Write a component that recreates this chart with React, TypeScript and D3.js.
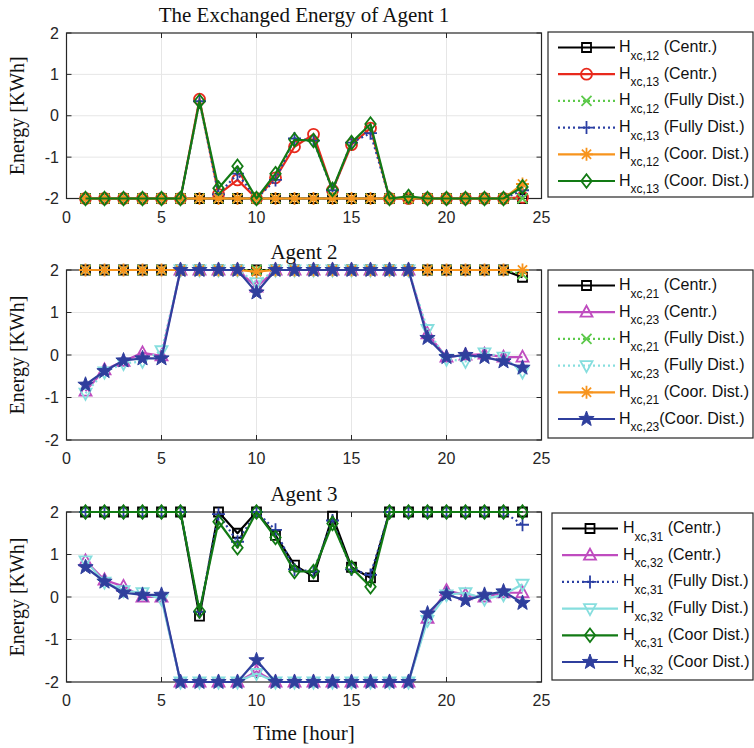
import React from "react";
import * as d3 from "d3";

// x categories (hour of day) and axis ticks
const hours = [1, 2, 3, 4, 5, 6, 7, 8, 9, 10, 11, 12, 13, 14, 15, 16, 17, 18, 19, 20, 21, 22, 23, 24];
const xTicks = [0, 5, 10, 15, 20, 25];
const yTicks = [-2, -1, 0, 1, 2];

// Agent 1
const h12Centr = [-2, -2, -2, -2, -2, -2, -2, -2, -2, -2, -2, -2, -2, -2, -2, -2, -2, -2, -2, -2, -2, -2, -2, -2];
const h13Centr = [-2, -2, -2, -2, -2, -2, 0.4, -1.9, -1.55, -2, -1.5, -0.75, -0.45, -1.8, -0.7, -0.3, -2, -2, -2, -2, -2, -2, -2, -1.97];
const h12Fully = [-2, -2, -2, -2, -2, -2, -2, -2, -2, -2, -2, -2, -2, -2, -2, -2, -2, -2, -2, -2, -2, -2, -2, -2];
const h13Fully = [-2, -2, -2, -2, -2, -2, 0.35, -1.9, -1.4, -2, -1.55, -0.55, -0.6, -1.8, -0.65, -0.42, -2, -2, -2, -2, -2, -2, -2, -1.8];
const h12Coor = [-2, -2, -2, -2, -2, -2, -2, -2, -2, -2, -2, -2, -2, -2, -2, -2, -2, -2, -2, -2, -2, -2, -2, -1.65];
const h13Coor = [-2, -2, -2, -2, -2, -2, 0.35, -1.75, -1.22, -2, -1.4, -0.58, -0.6, -1.78, -0.65, -0.2, -2, -1.95, -2, -2, -2, -2, -2, -1.72];

// Agent 2
const h21Centr = [2, 2, 2, 2, 2, 2, 2, 2, 2, 2, 2, 2, 2, 2, 2, 2, 2, 2, 2, 2, 2, 2, 2, 1.83];
const h23Centr = [-0.85, -0.35, -0.15, 0.05, -0.02, 2, 2, 2, 2, 1.6, 2, 2, 2, 2, 2, 2, 2, 2, 0.5, -0.05, 0, 0.02, -0.05, -0.05];
const h21Fully = [2, 2, 2, 2, 2, 2, 2, 2, 2, 2, 2, 2, 2, 2, 2, 2, 2, 2, 2, 2, 2, 2, 2, 1.9];
const h23Fully = [-0.9, -0.4, -0.2, -0.15, 0.1, 2, 2, 2, 2, 1.7, 2, 2, 2, 2, 2, 2, 2, 2, 0.6, -0.1, -0.15, 0.05, -0.05, -0.4];
const h21Coor = [2, 2, 2, 2, 2, 2, 2, 2, 2, 1.96, 2, 2, 2, 2, 2, 2, 2, 2, 2, 2, 2, 2, 2, 2];
const h23Coor = [-0.7, -0.38, -0.13, -0.08, -0.08, 2, 2, 2, 2, 1.47, 2, 2, 2, 2, 2, 2, 2, 2, 0.4, -0.05, 0, -0.05, -0.15, -0.3];

// Agent 3
const h31Centr = [2, 2, 2, 2, 2, 2, -0.45, 2, 1.5, 2, 1.45, 0.75, 0.48, 1.9, 0.7, 0.45, 2, 2, 2, 2, 2, 2, 2, 2];
const h32Centr = [0.85, 0.4, 0.25, 0, 0, -2, -2, -2, -2, -1.75, -2, -2, -2, -2, -2, -2, -2, -2, -0.5, 0.15, 0.05, 0, 0.1, 0.1];
const h31Fully = [2, 2, 2, 2, 2, 2, -0.35, 1.95, 1.3, 2, 1.58, 0.65, 0.6, 1.8, 0.65, 0.52, 2, 2, 2, 2, 2, 2, 2, 1.7];
const h32Fully = [0.85, 0.35, 0.15, 0.1, -0.05, -2, -2, -2, -2, -1.8, -2, -2, -2, -2, -2, -2, -2, -2, -0.55, 0.05, 0.1, -0.05, 0.05, 0.3];
const h31Coor = [2, 2, 2, 2, 2, 2, -0.33, 1.77, 1.16, 2, 1.4, 0.6, 0.6, 1.73, 0.69, 0.24, 2, 2, 2, 2, 2, 2, 2, 2];
const h32Coor = [0.7, 0.36, 0.1, 0.05, 0.05, -2, -2, -2, -2, -1.49, -2, -2, -2, -2, -2, -2, -2, -2, -0.39, 0.06, -0.08, 0.05, 0.13, -0.14];

type Marker = "square" | "circle" | "x" | "plus" | "asterisk" | "diamond" | "triUp" | "triDown" | "star";

const markerPath = (m: Marker): string => {
  switch (m) {
    case "square":
      return "M-4.5,-4.5H4.5V4.5H-4.5Z";
    case "circle":
      return "M5.5,0A5.5,5.5 0 1,1 -5.5,0A5.5,5.5 0 1,1 5.5,0Z";
    case "x":
      return "M-5,-5L5,5M-5,5L5,-5";
    case "plus":
      return "M-6.5,0H6.5M0,-6.5V6.5";
    case "asterisk":
      return "M-6.5,0H6.5M0,-6.5V6.5M-4.6,-4.6L4.6,4.6M-4.6,4.6L4.6,-4.6";
    case "diamond":
      return "M0,-6.8L5.2,0L0,6.8L-5.2,0Z";
    case "triUp":
      return "M0,-6.5L6,4.5H-6Z";
    case "triDown":
      return "M0,6.5L6,-4.5H-6Z";
    case "star": {
      const pts: string[] = [];
      for (let i = 0; i < 10; i++) {
        const r = i % 2 === 0 ? 8 : 3.3;
        const a = -Math.PI / 2 + (i * Math.PI) / 5;
        pts.push(`${(r * Math.cos(a)).toFixed(2)},${(r * Math.sin(a)).toFixed(2)}`);
      }
      return "M" + pts.join("L") + "Z";
    }
  }
};

const C = {
  black: "#000000",
  red: "#e8291c",
  lime: "#5cc94a",
  navy: "#2b3fa3",
  orange: "#f7941d",
  green: "#127a14",
  magenta: "#bf4cbf",
  cyan: "#86dede",
  star: "#2f3f9d",
};

interface Series {
  values: number[];
  color: string;
  marker: Marker;
  dotted?: boolean;
  sub: string;
  tail: string;
}

interface Panel {
  title: string;
  top: number;
  bottom: number;
  legend: { x: number; y: number; w: number; h: number; lx0: number; lx1: number; tx: number };
  series: Series[];
}

const panels: Panel[] = [
  {
    title: "The Exchanged Energy of Agent 1",
    top: 33,
    bottom: 198.5,
    legend: { x: 548, y: 32, w: 205, h: 165, lx0: 558, lx1: 615, tx: 619 },
    series: [
      { values: h12Centr, color: C.black, marker: "square", sub: "xc,12", tail: " (Centr.)" },
      { values: h13Centr, color: C.red, marker: "circle", sub: "xc,13", tail: " (Centr.)" },
      { values: h12Fully, color: C.lime, marker: "x", dotted: true, sub: "xc,12", tail: " (Fully Dist.)" },
      { values: h13Fully, color: C.navy, marker: "plus", dotted: true, sub: "xc,13", tail: " (Fully Dist.)" },
      { values: h12Coor, color: C.orange, marker: "asterisk", sub: "xc,12", tail: " (Coor. Dist.)" },
      { values: h13Coor, color: C.green, marker: "diamond", sub: "xc,13", tail: " (Coor. Dist.)" },
    ],
  },
  {
    title: "Agent 2",
    top: 270,
    bottom: 440,
    legend: { x: 548, y: 270, w: 205, h: 168, lx0: 558, lx1: 615, tx: 619 },
    series: [
      { values: h21Centr, color: C.black, marker: "square", sub: "xc,21", tail: " (Centr.)" },
      { values: h23Centr, color: C.magenta, marker: "triUp", sub: "xc,23", tail: " (Centr.)" },
      { values: h21Fully, color: C.lime, marker: "x", dotted: true, sub: "xc,21", tail: " (Fully Dist.)" },
      { values: h23Fully, color: C.cyan, marker: "triDown", dotted: true, sub: "xc,23", tail: " (Fully Dist.)" },
      { values: h21Coor, color: C.orange, marker: "asterisk", sub: "xc,21", tail: " (Coor. Dist.)" },
      { values: h23Coor, color: C.star, marker: "star", sub: "xc,23", tail: "(Coor. Dist.)" },
    ],
  },
  {
    title: "Agent 3",
    top: 512,
    bottom: 682,
    legend: { x: 552, y: 513, w: 201, h: 167, lx0: 562, lx1: 618, tx: 623 },
    series: [
      { values: h31Centr, color: C.black, marker: "square", sub: "xc,31", tail: " (Centr.)" },
      { values: h32Centr, color: C.magenta, marker: "triUp", sub: "xc,32", tail: " (Centr.)" },
      { values: h31Fully, color: C.navy, marker: "plus", dotted: true, sub: "xc,31", tail: " (Fully Dist.)" },
      { values: h32Fully, color: C.cyan, marker: "triDown", sub: "xc,32", tail: " (Fully Dist.)" },
      { values: h31Coor, color: C.green, marker: "diamond", sub: "xc,31", tail: " (Coor Dist.)" },
      { values: h32Coor, color: C.star, marker: "star", sub: "xc,32", tail: " (Coor Dist.)" },
    ],
  },
];

const LEFT = 66.5;
const RIGHT = 541.5;
const AXIS = "#262626";
const GRID = "#e6e6e6";
const SERIF = "'Liberation Serif', 'Times New Roman', serif";
const SANS = "'Liberation Sans', Arial, sans-serif";

const xScale = d3.scaleLinear().domain([0, 25]).range([LEFT, RIGHT]);

const MarkerShape = ({ m, color, x, y }: { m: Marker; color: string; x: number; y: number }) => (
  <path
    d={markerPath(m)}
    transform={`translate(${x},${y})`}
    fill={m === "star" ? color : "none"}
    stroke={color}
    strokeWidth={m === "star" ? 1 : 1.8}
  />
);

const PanelView = ({ p }: { p: Panel }) => {
  const y = d3.scaleLinear().domain([-2, 2]).range([p.bottom, p.top]);
  const line = d3
    .line<number>()
    .x((_, i) => xScale(hours[i]))
    .y((d) => y(d));
  const lg = p.legend;
  return (
    <g>
      {/* grid */}
      {xTicks.slice(1, -1).map((t) => (
        <line key={"gx" + t} x1={xScale(t)} x2={xScale(t)} y1={p.top} y2={p.bottom} stroke={GRID} />
      ))}
      {yTicks.slice(1, -1).map((t) => (
        <line key={"gy" + t} x1={LEFT} x2={RIGHT} y1={y(t)} y2={y(t)} stroke={GRID} />
      ))}
      {/* ticks (inward, all four sides) */}
      {xTicks.map((t) => (
        <g key={"tx" + t}>
          <line x1={xScale(t)} x2={xScale(t)} y1={p.bottom} y2={p.bottom - 5} stroke={AXIS} />
          <line x1={xScale(t)} x2={xScale(t)} y1={p.top} y2={p.top + 5} stroke={AXIS} />
          <text x={xScale(t)} y={p.bottom + 24} textAnchor="middle" fontFamily={SANS} fontSize={16} fill={AXIS}>
            {t}
          </text>
        </g>
      ))}
      {yTicks.map((t) => (
        <g key={"ty" + t}>
          <line x1={LEFT} x2={LEFT + 5} y1={y(t)} y2={y(t)} stroke={AXIS} />
          <line x1={RIGHT} x2={RIGHT - 5} y1={y(t)} y2={y(t)} stroke={AXIS} />
          <text x={59} y={y(t) + 5.5} textAnchor="end" fontFamily={SANS} fontSize={16} fill={AXIS}>
            {t}
          </text>
        </g>
      ))}
      <rect x={LEFT} y={p.top} width={RIGHT - LEFT} height={p.bottom - p.top} fill="none" stroke={AXIS} strokeWidth={1.2} />
      {/* series */}
      {p.series.map((s, si) => (
        <g key={"s" + si}>
          <path
            d={line(s.values) ?? ""}
            fill="none"
            stroke={s.color}
            strokeWidth={2.2}
            strokeDasharray={s.dotted ? "2,3" : undefined}
            strokeLinejoin="round"
          />
          {s.values.map((v, i) => (
            <MarkerShape key={i} m={s.marker} color={s.color} x={xScale(hours[i])} y={y(v)} />
          ))}
        </g>
      ))}
      {/* title + y label */}
      <text x={(LEFT + RIGHT) / 2} y={p.top - 11} textAnchor="middle" fontFamily={SERIF} fontSize={21} fill="#111">
        {p.title}
      </text>
      <text
        transform={`translate(24,${(p.top + p.bottom) / 2}) rotate(-90)`}
        textAnchor="middle"
        fontFamily={SERIF}
        fontSize={20}
        fill="#111"
      >
        Energy [KWh]
      </text>
      {/* legend */}
      <rect x={lg.x} y={lg.y} width={lg.w} height={lg.h} fill="#fff" stroke={AXIS} strokeWidth={1.2} />
      {p.series.map((s, i) => {
        const ry = lg.y + 15.5 + i * 26.7;
        const mx = (lg.lx0 + lg.lx1) / 2;
        return (
          <g key={"l" + i}>
            <line
              x1={lg.lx0}
              x2={lg.lx1}
              y1={ry}
              y2={ry}
              stroke={s.color}
              strokeWidth={2.2}
              strokeDasharray={s.dotted ? "2,3" : undefined}
            />
            <MarkerShape m={s.marker} color={s.color} x={mx} y={ry} />
            <text x={lg.tx} y={ry + 4.5} fontFamily={SANS} fontSize={16} fill="#111" style={{ whiteSpace: "pre" }}>
              H
              <tspan fontSize={12} dy={7.5}>
                {s.sub}
              </tspan>
              <tspan fontSize={16} dy={-7.5}>
                {s.tail}
              </tspan>
            </text>
          </g>
        );
      })}
    </g>
  );
};

export default function App() {
  return (
    <svg
      width={754}
      height={748}
      viewBox="0 0 754 748"
      style={{ position: "absolute", left: 0, top: 0, background: "#fff" }}
    >
      <rect width={754} height={748} fill="#fff" />
      {panels.map((p, i) => (
        <PanelView key={i} p={p} />
      ))}
      <text x={(LEFT + RIGHT) / 2} y={740} textAnchor="middle" fontFamily={SERIF} fontSize={21} fill="#111">
        Time [hour]
      </text>
    </svg>
  );
}
